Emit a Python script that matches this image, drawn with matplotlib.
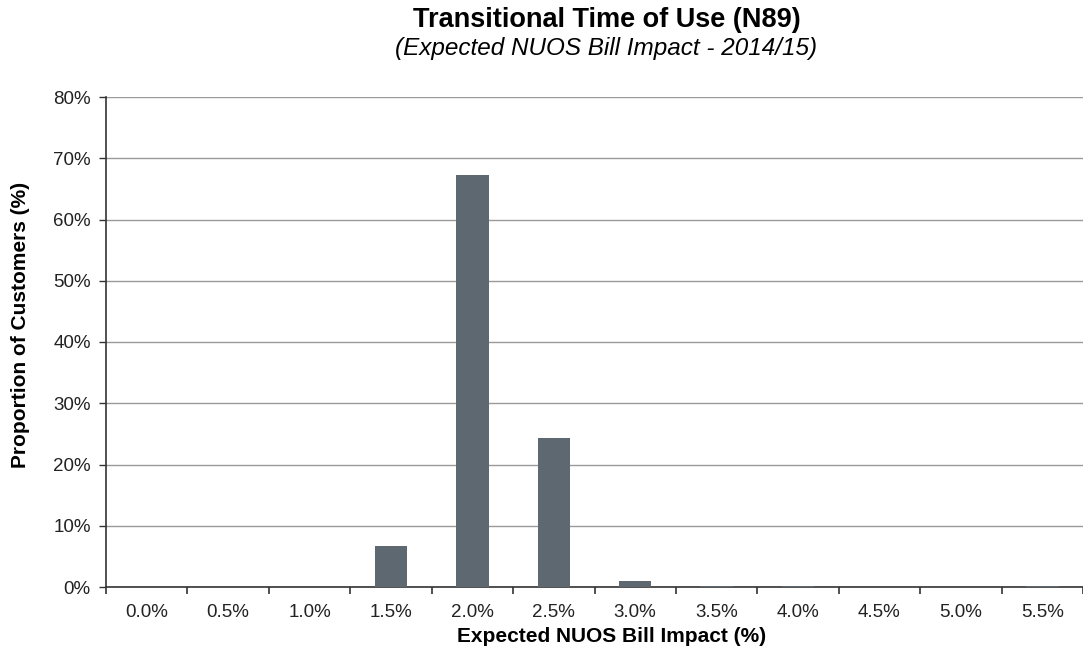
import matplotlib
matplotlib.use("Agg")
import matplotlib.pyplot as plt
from matplotlib.ticker import FixedLocator, PercentFormatter
import numpy as np

plt.rcParams['font.family'] = ['Liberation Sans', 'DejaVu Sans']

categories = ["0.0%", "0.5%", "1.0%", "1.5%", "2.0%", "2.5%",
              "3.0%", "3.5%", "4.0%", "4.5%", "5.0%", "5.5%"]
share_pct = [0.0, 0.0, 0.0, 6.7, 67.3, 24.3, 1.0, 0.2, 0.2, 0.0, 0.0, 0.2]

bar_color = "#5e6870"
grid_color = "#9a9a9a"
axis_color = "#333333"

fig = plt.figure(figsize=(10.83, 6.52), dpi=100)
ax = fig.add_axes([106 / 1083, 65 / 652, (1083 - 106) / 1083, 490 / 652])

x = np.arange(len(categories))
ax.bar(x, share_pct, width=0.4, color=bar_color, linewidth=0, zorder=3)

ax.set_xlim(-0.5, len(categories) - 0.5)
ax.set_ylim(0, 80)
ax.yaxis.set_major_locator(FixedLocator(np.arange(0, 81, 10)))
ax.yaxis.set_major_formatter(PercentFormatter(decimals=0))
ax.set_xticks(x)
ax.set_xticklabels(categories)
ax.xaxis.set_minor_locator(FixedLocator(np.arange(-0.5, len(categories), 1.0)))

ax.tick_params(axis='x', which='major', length=0, pad=12, labelsize=13.5,
               labelcolor="#222222")
ax.tick_params(axis='x', which='minor', length=5, width=1.2, color=axis_color,
               direction='out')
ax.tick_params(axis='y', which='major', length=5, width=1, color=axis_color,
               direction='out', labelsize=13.5, labelcolor="#222222", pad=6)

ax.grid(axis='y', color=grid_color, linewidth=1.0, zorder=0)
for side in ("top", "right"):
    ax.spines[side].set_visible(False)
ax.spines["left"].set_color(axis_color)
ax.spines["left"].set_linewidth(1.2)
ax.spines["bottom"].set_color(axis_color)
ax.spines["bottom"].set_linewidth(1.2)

ax.set_xlabel("Expected NUOS Bill Impact (%)", fontsize=15, fontweight='bold',
              va='center')
ax.set_ylabel("Proportion of Customers (%)", fontsize=15, fontweight='bold',
              va='center')
ax.xaxis.set_label_coords(0.517, -0.1)
ax.yaxis.set_label_coords(-0.088, 0.535)

fig.text(0.56, 0.970, "Transitional Time of Use (N89)", ha='center', va='center',
         fontsize=19.5, fontweight='bold')
fig.text(0.56, 0.926, "(Expected NUOS Bill Impact - 2014/15)", ha='center',
         va='center', fontsize=17.5, fontstyle='italic')

fig.savefig("out.png", dpi=100)
